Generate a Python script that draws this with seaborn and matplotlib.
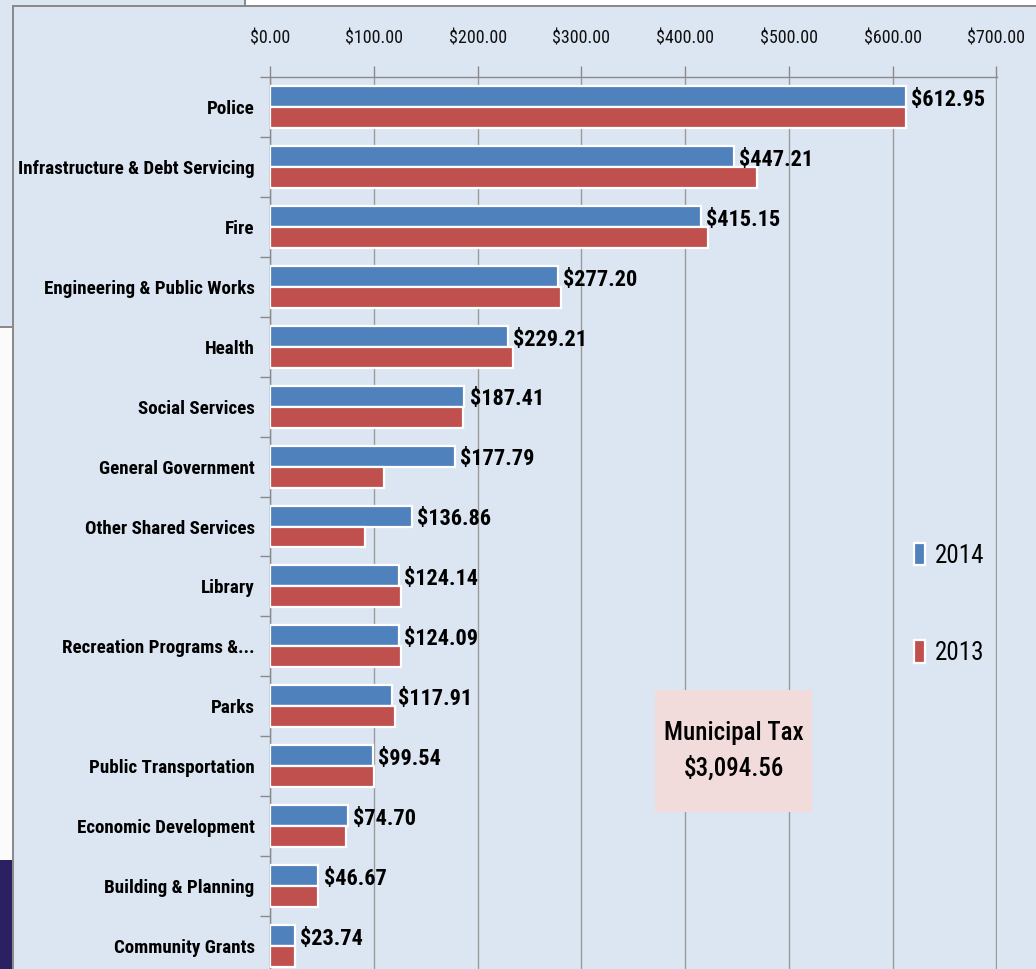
import numpy as np
import pandas as pd
import matplotlib.pyplot as plt
import seaborn as sns
from matplotlib import font_manager
from matplotlib.patches import Rectangle
from matplotlib.ticker import StrMethodFormatter, FixedLocator

categories = ['Police', 'Infrastructure & Debt Servicing', 'Fire',
              'Engineering & Public Works', 'Health', 'Social Services',
              'General Government', 'Other Shared Services', 'Library',
              'Recreation Programs &...', 'Parks', 'Public Transportation',
              'Economic Development', 'Building & Planning', 'Community Grants']
v2014 = [612.95, 447.21, 415.15, 277.20, 229.21, 187.41, 177.79, 136.86,
         124.14, 124.09, 117.91, 99.54, 74.70, 46.67, 23.74]
v2013 = [613.0, 469.0, 422.0, 280.0, 234.0, 186.0, 110.0, 91.5,
         126.0, 126.0, 120.0, 100.0, 73.0, 46.0, 24.0]
years = ['2014', '2013']
total_label = 'Municipal Tax\n$3,094.56'

df = pd.DataFrame({'Category': categories * 2,
                   'Amount': v2014 + v2013,
                   'Year': [years[0]] * len(categories) + [years[1]] * len(categories)})

# pick a narrow font if one is there
names = {f.name for f in font_manager.fontManager.ttflist}
narrow = next((n for n in ['Liberation Sans Narrow', 'Roboto Condensed',
                           'Open Sans Condensed', 'DejaVu Sans Condensed']
               if n in names), 'DejaVu Sans')

sns.set_style('white')
plt.rcParams['font.family'] = [narrow, 'DejaVu Sans']
plt.rcParams['font.stretch'] = 'condensed'
plt.rcParams['text.color'] = 'black'

W, H = 1036, 969
bg = '#dce6f2'
grey = '#8a8a8a'
fig = plt.figure(figsize=(W / 100, H / 100), dpi=100, facecolor=bg)

def px(x0, y0, x1, y1, **kw):
    # rectangle given in image pixels (top-left origin)
    fig.add_artist(Rectangle((x0 / W, 1 - y1 / H), (x1 - x0) / W, (y1 - y0) / H,
                             transform=fig.transFigure, **kw))

# slide bits around the chart frame
px(245, 0, W, 6, facecolor='white', edgecolor='none')
px(0, 327, 13, 860, facecolor='#fbfbfb', edgecolor='none')
px(0, 860, 13, H, facecolor='#2b2062', edgecolor='none')
px(0, 326, 13, 328, facecolor=grey, edgecolor='none')
px(244, 0, 246, 6, facecolor=grey, edgecolor='none')
px(13, 5, W, 7, facecolor=grey, edgecolor='none')
px(12, 5, 14, H, facecolor=grey, edgecolor='none')

ax = fig.add_axes([270 / W, 1 - 976 / H, (997 - 270) / W, (976 - 77) / H])
ax.set_facecolor(bg)

sns.barplot(data=df, x='Amount', y='Category', hue='Year', hue_order=years,
            orient='h', palette=['#4f81bd', '#c0504d'], width=0.7,
            edgecolor='white', linewidth=1.6, saturation=1, ax=ax, zorder=3)

ax.set_xlim(0, 700.5)
ax.set_ylim(len(categories) - 0.5, -0.5)
ax.xaxis.tick_top()
ax.xaxis.set_major_locator(FixedLocator(np.arange(0, 701, 100)))
ax.xaxis.set_major_formatter(StrMethodFormatter('${x:.2f}'))
ax.tick_params(axis='x', length=8, width=1, color=grey, pad=13,
               labelsize=13, labelcolor='#111111')
ax.grid(axis='x', color='#9a9a9a', linewidth=1, zorder=0)
ax.set_axisbelow(True)

ax.yaxis.set_minor_locator(FixedLocator(np.arange(-0.5, len(categories), 1)))
ax.tick_params(axis='y', which='major', length=0, pad=11, labelcolor='black')
ax.tick_params(axis='y', which='minor', length=7, width=1, color=grey,
               left=True)
for lab in ax.get_yticklabels():
    lab.set_fontweight('bold')
    lab.set_fontsize(13.7)

for s in ['right', 'bottom']:
    ax.spines[s].set_visible(False)
for s in ['top', 'left']:
    ax.spines[s].set_color(grey)
    ax.spines[s].set_linewidth(1)
ax.set_xlabel('')
ax.set_ylabel('')

for i, v in enumerate(v2014):
    ax.text(v + 5, i - 0.12, f'${v:.2f}', va='center', ha='left',
            fontsize=16, fontweight='bold', color='black', zorder=5)

handles, labels = ax.get_legend_handles_labels()
ax.legend(handles, labels, loc='center left',
          bbox_to_anchor=(891 / W, 1 - 604 / H), bbox_transform=fig.transFigure,
          frameon=False, fontsize=18, handlelength=0.45, handleheight=1.0,
          handletextpad=0.4, labelspacing=2.9, labelcolor='black')

px(655, 690, 812, 812, facecolor='#f2dcdb', edgecolor='none')
fig.text(733.5 / W, 1 - 751 / H, total_label, ha='center', va='center',
         fontsize=18, linespacing=1.55, color='black', fontweight='medium')

plt.savefig('out.png', dpi=100, facecolor=bg)
